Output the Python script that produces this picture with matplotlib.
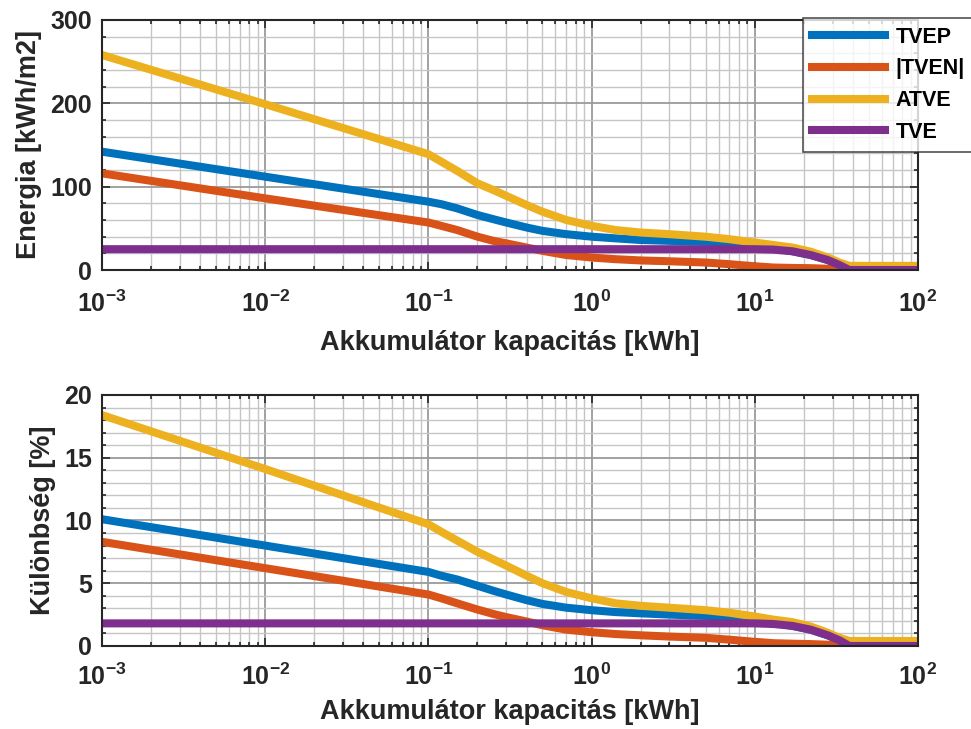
import matplotlib
matplotlib.use('Agg')
import matplotlib.pyplot as plt
from matplotlib.ticker import MultipleLocator, LogLocator, FixedLocator, NullFormatter

plt.rcParams['font.family'] = ['Liberation Sans', 'DejaVu Sans']
plt.rcParams['font.weight'] = 'bold'
plt.rcParams['mathtext.fontset'] = 'custom'
plt.rcParams['mathtext.rm'] = 'Liberation Sans:bold'
plt.rcParams['mathtext.bf'] = 'Liberation Sans:bold'
plt.rcParams['mathtext.it'] = 'Liberation Sans:bold'

# kapacitás [kWh]
kapacitas = [1e-3, 1e-2, 0.1, 0.12, 0.15, 0.2, 0.25, 0.3, 0.4, 0.5, 0.7, 1.0, 1.4, 2, 3, 5, 7,
             10, 13, 17, 22, 28, 33, 38, 100]

# energia [kWh/m2]
tvep_e = [142, 112, 82, 79, 74, 66, 61, 57, 51, 47, 43, 40, 38, 36, 35, 34, 32,
          30, 26, 22.5, 18, 12, 6, 0, 0]
tven_e = [116, 86, 57, 53, 48, 40, 35, 32, 27, 23, 18, 15, 13, 11.5, 10.5, 9, 7,
          4.5, 3, 2.5, 2.2, 1.5, 0.8, 0, 0]
atve_e = [258, 199, 139, 130, 119, 104, 96, 89, 78, 70, 60, 53, 48, 45, 43, 40, 37,
          33, 30, 27, 22, 15, 9, 5, 5]
tve_e = [25, 25, 25, 25, 25, 25, 25, 25, 25, 25, 25, 25, 25, 25, 25, 25, 25,
         25, 24.5, 22.5, 18, 12, 6, 0, 0]

# különbség [%]
tvep_p = [10.1, 8.0, 5.9, 5.6, 5.3, 4.8, 4.4, 4.1, 3.65, 3.35, 3.05, 2.85, 2.7, 2.6, 2.5, 2.4, 2.3,
          2.1, 1.85, 1.6, 1.3, 0.85, 0.45, 0, 0]
tven_p = [8.3, 6.2, 4.1, 3.8, 3.4, 2.9, 2.55, 2.3, 1.95, 1.65, 1.3, 1.1, 0.95, 0.85, 0.75, 0.65, 0.5,
          0.33, 0.22, 0.18, 0.15, 0.1, 0.05, 0, 0]
atve_p = [18.4, 14.1, 9.7, 9.1, 8.4, 7.5, 6.9, 6.4, 5.6, 5.0, 4.3, 3.8, 3.4, 3.2, 3.05, 2.85, 2.65,
          2.35, 2.1, 1.9, 1.55, 1.05, 0.65, 0.4, 0.4]
tve_p = [1.8, 1.8, 1.8, 1.8, 1.8, 1.8, 1.8, 1.8, 1.8, 1.8, 1.8, 1.8, 1.8, 1.8, 1.8, 1.8, 1.8,
         1.8, 1.75, 1.6, 1.3, 0.85, 0.45, 0, 0]

nevek = ['TVEP', '|TVEN|', 'ATVE', 'TVE']
szinek = ['#0072BD', '#D95319', '#EDB120', '#7E2F8E']
xtick_ertekek = [1e-3, 1e-2, 1e-1, 1e0, 1e1, 1e2]
xtick_cimkek = [r'$10^{-3}$', r'$10^{-2}$', r'$10^{-1}$', r'$10^{0}$', r'$10^{1}$', r'$10^{2}$']

fig = plt.figure(figsize=(9.71, 7.29), dpi=100)
ax1 = fig.add_axes([0.105, 0.6296, 0.8404, 0.343])
ax2 = fig.add_axes([0.105, 0.1139, 0.8404, 0.3443])

ink = '#262626'


def formaz(ax, ymax, major, minor, ylabel, xpad, lpad):
    ax.set_xscale('log')
    ax.set_xlim(1e-3, 1e2)
    ax.set_ylim(0, ymax)
    ax.xaxis.set_major_locator(FixedLocator(xtick_ertekek))
    ax.set_xticklabels(xtick_cimkek)
    ax.xaxis.set_minor_locator(LogLocator(base=10, subs=range(2, 10), numticks=20))
    ax.xaxis.set_minor_formatter(NullFormatter())
    ax.yaxis.set_major_locator(MultipleLocator(major))
    ax.yaxis.set_minor_locator(MultipleLocator(minor))
    ax.grid(True, which='major', color='#9a9a9a', lw=1.3)
    ax.grid(True, which='minor', color='#c6c6c6', lw=1.0)
    ax.set_axisbelow(True)
    ax.tick_params(which='both', direction='in', top=True, right=True, colors=ink,
                   labelsize=18, width=1.2)
    ax.tick_params(which='major', length=6)
    ax.tick_params(which='minor', length=3)
    ax.tick_params(axis='x', which='major', pad=xpad)
    ax.tick_params(axis='y', which='major', pad=7)
    for s in ax.spines.values():
        s.set_color(ink)
        s.set_linewidth(1.5)
    ax.set_xlabel('Akkumulátor kapacitás [kWh]', fontsize=19.5, fontweight='bold',
                  color=ink, labelpad=lpad)
    ax.set_ylabel(ylabel, fontsize=19.5, fontweight='bold', color=ink, labelpad=6)


for ys, nev, szin in zip([tvep_e, tven_e, atve_e, tve_e], nevek, szinek):
    ax1.plot(kapacitas, ys, color=szin, lw=5.8, label=nev, solid_joinstyle='round')
for ys, nev, szin in zip([tvep_p, tven_p, atve_p, tve_p], nevek, szinek):
    ax2.plot(kapacitas, ys, color=szin, lw=5.8, label=nev, solid_joinstyle='round')

formaz(ax1, 300, 100, 20, 'Energia [kWh/m2]', 15, 9)
formaz(ax2, 20, 5, 1, 'Különbség [%]', 13, 6)

leg = ax1.legend(loc='upper left', bbox_to_anchor=(803 / 971, 1 - 18 / 729),
                 bbox_transform=fig.transFigure, fontsize=15.5, frameon=True,
                 fancybox=False, handlelength=3.4, handletextpad=0.5,
                 borderpad=0.4, labelspacing=0.5, borderaxespad=0)
leg.get_frame().set_edgecolor(ink)
leg.get_frame().set_linewidth(1.2)
for t in leg.get_texts():
    t.set_fontweight('bold')
    t.set_color('black')

fig.savefig('out.png', dpi=100)
